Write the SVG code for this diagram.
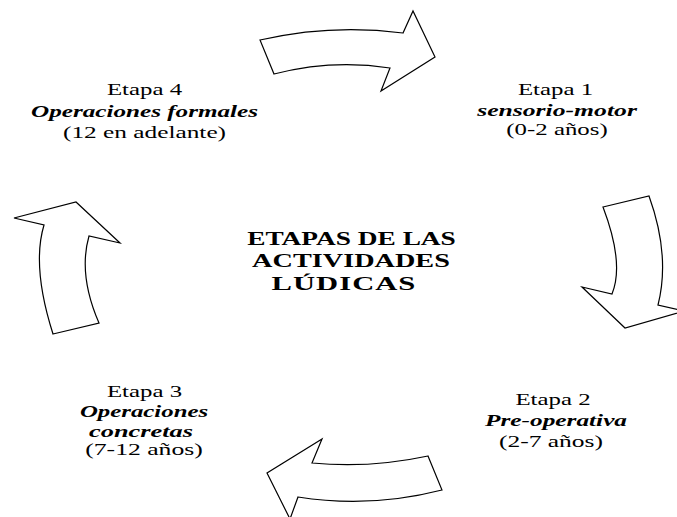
<svg xmlns="http://www.w3.org/2000/svg" width="677" height="517" viewBox="0 0 677 517">
<style>
.t{font-family:"Liberation Serif","Times New Roman",serif;font-size:17px;fill:#000;text-anchor:middle}
.bi{font-weight:bold;font-style:italic}
.title{font-family:"Liberation Serif","Times New Roman",serif;font-size:18px;font-weight:bold;fill:#000;text-anchor:middle}
.arrow{fill:#fff;stroke:#000;stroke-width:1.2;stroke-linejoin:miter}
</style>
<rect width="677" height="517" fill="#fff"/>
<g id="connectors">
<path class="arrow" d="M260,40 Q331.5,23.5 403,33 L413,11 L435,57 L381,91 L390,68 Q332,59 274,74 Z"/>
<path class="arrow" d="M603,207 L649,196 Q670.5,255.5 658,305 L684,311 L625,328 L582,287 L612,294 Q624.5,263.5 603,207 Z"/>
<path class="arrow" d="M428,456 L442,490 Q370,508.5 298,497 L290,519 L267,473 L322,439 L312,463 Q370,468.5 428,456 Z"/>
<path class="arrow" d="M53,334 L99,323 Q78,274.5 89,236 L120,243 L76,202 L14,218 L44,225 Q31.5,266.5 53,334 Z"/>
</g>
<g id="center">
<text class="title" transform="translate(351.5,245) scale(1.52,1)">ETAPAS DE LAS</text>
<text class="title" transform="translate(351,267) scale(1.57,1)">ACTIVIDADES</text>
<text class="title" transform="translate(344,290) scale(1.7,1)" letter-spacing="0.6">LÚDICAS</text>
</g>
<g id="etapa1">
<text class="t" transform="translate(555.5,95) scale(1.46,1)">Etapa 1</text>
<text class="t bi" transform="translate(557,116) scale(1.51,1)">sensorio-motor</text>
<text class="t" transform="translate(557,135) scale(1.46,1)">(0-2 años)</text>
</g>
<g id="etapa2">
<text class="t" transform="translate(553,405) scale(1.46,1)">Etapa 2</text>
<text class="t bi" transform="translate(556,426) scale(1.49,1)">Pre-operativa</text>
<text class="t" transform="translate(551,447) scale(1.5,1)">(2-7 años)</text>
</g>
<g id="etapa3">
<text class="t" transform="translate(144.5,397) scale(1.46,1)">Etapa 3</text>
<text class="t bi" transform="translate(144,417) scale(1.46,1)">Operaciones</text>
<text class="t bi" transform="translate(141,437) scale(1.55,1)">concretas</text>
<text class="t" transform="translate(144,455) scale(1.51,1)">(7-12 años)</text>
</g>
<g id="etapa4">
<text class="t" transform="translate(144.5,95) scale(1.46,1)">Etapa 4</text>
<text class="t bi" transform="translate(144.5,117) scale(1.48,1)">Operaciones formales</text>
<text class="t" transform="translate(144.5,138) scale(1.49,1)">(12 en adelante)</text>
</g>
</svg>
